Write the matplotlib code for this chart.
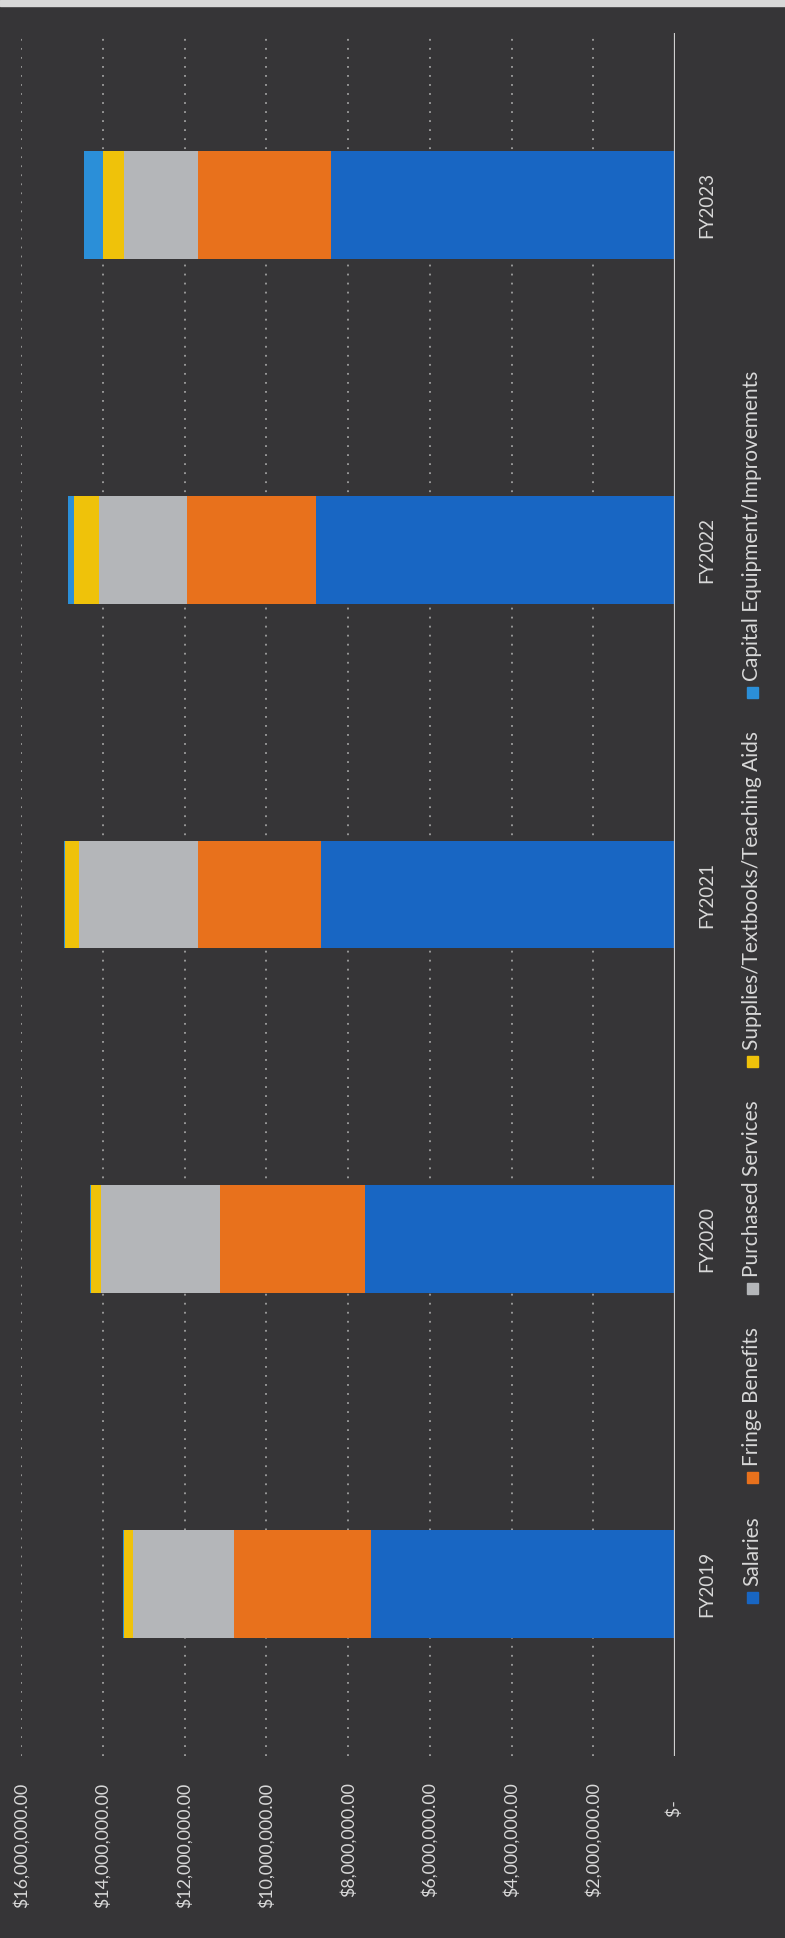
import matplotlib
matplotlib.use('Agg')
import matplotlib.pyplot as plt
from matplotlib.patches import Rectangle
import numpy as np

plt.rcParams['font.family'] = ['Lato', 'DejaVu Sans']
plt.rcParams['text.parse_math'] = False

# ---------------- data (values in dollars) ----------------
years = ['FY2019', 'FY2020', 'FY2021', 'FY2022', 'FY2023']
series_names = ['Salaries', 'Fringe Benefits', 'Purchased Services',
                'Supplies/Textbooks/Teaching Aids', 'Capital Equipment/Improvements']
salaries = [7_440_000, 7_590_000, 8_660_000, 8_790_000, 8_420_000]
fringe_benefits = [3_340_000, 3_550_000, 3_020_000, 3_150_000, 3_260_000]
purchased_services = [2_480_000, 2_910_000, 2_900_000, 2_160_000, 1_790_000]
supplies = [220_000, 230_000, 340_000, 600_000, 520_000]
capital_equipment = [20_000, 40_000, 30_000, 150_000, 470_000]
value_ticks = [0, 2_000_000, 4_000_000, 6_000_000, 8_000_000,
               10_000_000, 12_000_000, 14_000_000, 16_000_000]

series = [salaries, fringe_benefits, purchased_services, supplies, capital_equipment]
colors = ['#1866c3', '#e8711c', '#b4b6b9', '#efc20a', '#2b8fd8']

BG = '#363537'
TXT = '#d8d8d8'
W, H = 785, 1938

fig = plt.figure(figsize=(W / 100, H / 100), dpi=100, facecolor=BG)
# scan edge strip at the very top
fig.add_artist(Rectangle((0, 1 - 6 / H), 1, 6 / H, transform=fig.transFigure,
                         color='#d8d8d8', zorder=0))

ax = fig.add_axes([21 / W, (H - 1756) / H, (675 - 21) / W, (1756 - 33) / H])
ax.set_facecolor(BG)

y = np.arange(len(years))
left = np.zeros(len(years))
for vals, col in zip(series, colors):
    vals = np.asarray(vals, dtype=float)
    ax.barh(y, vals, left=left, height=0.313, color=col, edgecolor='none', zorder=3)
    left += vals

ax.set_xlim(16_000_000, 0)
ax.set_ylim(-0.5, len(years) - 0.5)

ax.set_xticks(value_ticks)
xlabels = [f"${v:,.2f}" if v > 0 else "$-    " for v in value_ticks]
ax.set_xticklabels(xlabels, rotation=90, color=TXT, fontsize=12.8)
ax.tick_params(axis='x', length=0, pad=19)

ax.yaxis.tick_right()
ax.set_yticks(y)
ax.set_yticklabels(years, rotation=90, va='center', ha='left', color=TXT, fontsize=13.5)
ax.tick_params(axis='y', length=0, pad=17)

ax.grid(axis='x', color='#a0a0a0', linestyle=(0, (1, 4)), linewidth=1.3)
ax.set_axisbelow(True)
for s in ax.spines.values():
    s.set_visible(False)
ax.axvline(0, color='#cfcfcf', linewidth=1.6, zorder=4)

# ---------------- legend (rotated, built manually) ----------------
fig.canvas.draw()
renderer = fig.canvas.get_renderer()
leg_x = 752
msize = 11
gap_mt = 6
legend_bottom = H - 1603   # display coords (from bottom)
legend_top = H - 371
texts = []
lengths = []
for name in series_names:
    t = fig.text(leg_x / W, 0.5, name, rotation=90, ha='center', va='bottom',
                 color=TXT, fontsize=15, transform=fig.transFigure)
    texts.append(t)
    lengths.append(t.get_window_extent(renderer).height)
used = sum(msize + gap_mt + L for L in lengths)
gap_entries = ((legend_top - legend_bottom) - used) / (len(series_names) - 1)
cur = legend_bottom
for t, L, col in zip(texts, lengths, colors):
    fig.add_artist(Rectangle(((leg_x - msize / 2) / W, cur / H), msize / W, msize / H,
                             transform=fig.transFigure, color=col))
    t.set_position((leg_x / W, (cur + msize + gap_mt) / H))
    cur += msize + gap_mt + L + gap_entries

fig.savefig('out.png', dpi=100, facecolor=BG)
